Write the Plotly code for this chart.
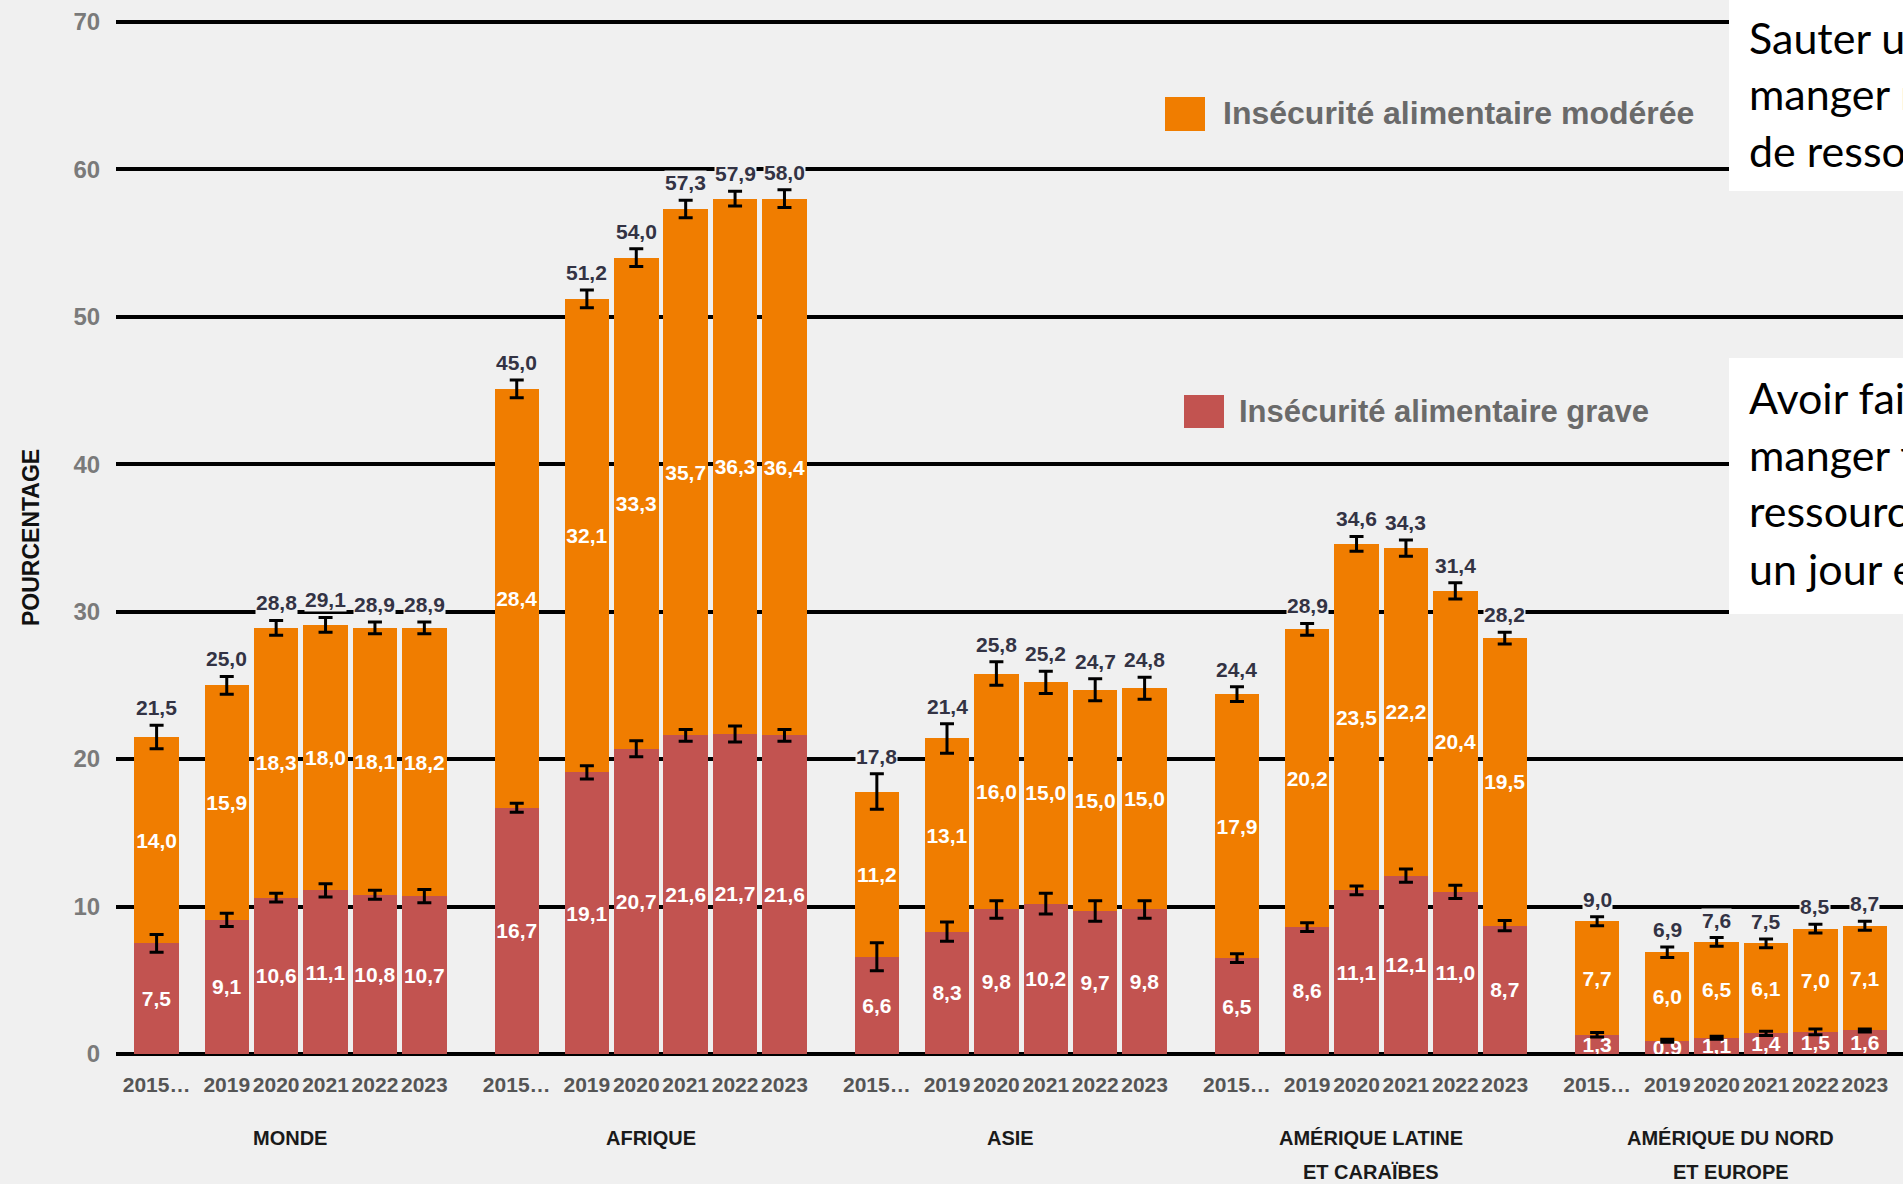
import plotly.graph_objects as go

# ---------------- data ----------------
groups = ["MONDE", "AFRIQUE", "ASIE", "AMÉRIQUE LATINE<br>ET CARAÏBES", "AMÉRIQUE DU NORD<br>ET EUROPE"]
years = ["2015…", "2019", "2020", "2021", "2022", "2023"]

# Insécurité alimentaire grave (%)
severe = [7.5, 9.1, 10.6, 11.1, 10.8, 10.7,
          16.7, 19.1, 20.7, 21.6, 21.7, 21.6,
          6.6, 8.3, 9.8, 10.2, 9.7, 9.8,
          6.5, 8.6, 11.1, 12.1, 11.0, 8.7,
          1.3, 0.9, 1.1, 1.4, 1.5, 1.6]
# Insécurité alimentaire modérée (%)
moderate = [14.0, 15.9, 18.3, 18.0, 18.1, 18.2,
            28.4, 32.1, 33.3, 35.7, 36.3, 36.4,
            11.2, 13.1, 16.0, 15.0, 15.0, 15.0,
            17.9, 20.2, 23.5, 22.2, 20.4, 19.5,
            7.7, 6.0, 6.5, 6.1, 7.0, 7.1]
# Total modérée + grave (%)
total = [21.5, 25.0, 28.8, 29.1, 28.9, 28.9,
         45.0, 51.2, 54.0, 57.3, 57.9, 58.0,
         17.8, 21.4, 25.8, 25.2, 24.7, 24.8,
         24.4, 28.9, 34.6, 34.3, 31.4, 28.2,
         9.0, 6.9, 7.6, 7.5, 8.5, 8.7]
# uncertainty (half range)
severe_err = [0.6, 0.45, 0.3, 0.45, 0.3, 0.45,
              0.3, 0.45, 0.55, 0.4, 0.55, 0.4,
              0.95, 0.65, 0.6, 0.7, 0.7, 0.6,
              0.3, 0.3, 0.3, 0.45, 0.45, 0.35,
              0.15, 0.1, 0.1, 0.15, 0.2, 0.1]
total_err = [0.8, 0.6, 0.5, 0.5, 0.4, 0.4,
             0.6, 0.6, 0.6, 0.6, 0.5, 0.6,
             1.2, 1.0, 0.8, 0.75, 0.75, 0.75,
             0.5, 0.4, 0.5, 0.55, 0.55, 0.4,
             0.3, 0.35, 0.3, 0.3, 0.3, 0.3]

legend_moderate = "Insécurité alimentaire modérée"
legend_severe = "Insécurité alimentaire grave"
y_title = "POURCENTAGE"
note_moderate = ["Sauter un repas ou", "manger moins faute", "de ressources"]
note_severe = ["Avoir faim et ne pas", "manger faute de", "ressources ou passer", "un jour entier sans manger"]

# ---------------- layout constants ----------------
W, H = 1903, 1184
L, T, B = 116, 14, 130
Y0_PX = H - B
PX_PER_UNIT = 14.747
GROUP_STEP = 7.29
YEAR_OFFSETS = [0, 1.42, 2.42, 3.42, 4.42, 5.42]
SLOT_PX = 49.4
FIRST_PX = 156.6

ORANGE = "#F07D00"
RED = "#C25350"
BG = "#F0F0F0"
FONT = "Liberation Sans, Arial, sans-serif"
NOTE_FONT = "Lato, Open Sans, sans-serif"


def fmt(v):
    return f"{v:.1f}".replace(".", ",")


def xp(px):
    return (px - L) / (W - L)


def yp(py):
    return (Y0_PX - py) / (H - T - B)


xs, ticktext = [], []
for g in range(len(groups)):
    for i, yr in enumerate(years):
        xs.append(g * GROUP_STEP + YEAR_OFFSETS[i])
        ticktext.append(yr)

bar_top = [s + m for s, m in zip(severe, moderate)]

x_min = (L - FIRST_PX) / SLOT_PX
x_max = x_min + (W - L) / SLOT_PX
y_max = (H - T - B) / PX_PER_UNIT

label_font = dict(family=FONT, size=21, color="white", weight="bold")

fig = go.Figure()
fig.add_trace(go.Bar(
    x=xs, y=severe, width=0.9, marker=dict(color=RED, line=dict(width=0)),
    text=[fmt(v) for v in severe], textposition="inside", insidetextanchor="middle",
    textangle=0, constraintext="none", textfont=label_font, insidetextfont=label_font,
    name=legend_severe, showlegend=False, hoverinfo="skip"))
fig.add_trace(go.Bar(
    x=xs, y=moderate, width=0.9, marker=dict(color=ORANGE, line=dict(width=0)),
    text=[fmt(v) for v in moderate], textposition="inside", insidetextanchor="middle",
    textangle=0, constraintext="none", textfont=label_font, insidetextfont=label_font,
    name=legend_moderate, showlegend=False, hoverinfo="skip"))
fig.add_trace(go.Scatter(
    x=xs, y=severe, mode="markers", marker=dict(size=2, color="rgba(0,0,0,0)"),
    error_y=dict(type="data", array=severe_err, color="black", thickness=3, width=7),
    showlegend=False, hoverinfo="skip"))
fig.add_trace(go.Scatter(
    x=xs, y=bar_top, mode="markers", marker=dict(size=2, color="rgba(0,0,0,0)"),
    error_y=dict(type="data", array=total_err, color="black", thickness=3, width=7),
    showlegend=False, hoverinfo="skip"))

annotations = []
for x, top, e, t in zip(xs, bar_top, total_err, total):
    annotations.append(dict(x=x, y=top + e, xref="x", yref="y", text=fmt(t), showarrow=False,
                            yanchor="bottom", yshift=5, bgcolor=BG, borderpad=0,
                            font=dict(family=FONT, size=21, color="#333344", weight="bold")))

for g, name in enumerate(groups):
    cx = g * GROUP_STEP + (YEAR_OFFSETS[0] + YEAR_OFFSETS[-1]) / 2
    for k, part in enumerate(name.split("<br>")):
        annotations.append(dict(x=cx, y=yp(1138 + 34 * k), xref="x", yref="paper", text=part,
                                showarrow=False, yanchor="middle", xanchor="center",
                                font=dict(family=FONT, size=20, color="#1a1a1a", weight="bold")))

annotations.append(dict(x=xp(31), y=yp(538), xref="paper", yref="paper", text=y_title, textangle=-90,
                        showarrow=False, xanchor="center", yanchor="middle",
                        font=dict(family=FONT, size=23, color="#111111", weight="bold")))

# legend (custom placement)
annotations.append(dict(x=xp(1221), y=yp(113), xref="paper", yref="paper", text=legend_moderate,
                        showarrow=False, xanchor="left", yanchor="middle",
                        font=dict(family=FONT, size=32, color="#6a6a6a", weight="bold")))
annotations.append(dict(x=xp(1237), y=yp(411), xref="paper", yref="paper", text=legend_severe,
                        showarrow=False, xanchor="left", yanchor="middle",
                        font=dict(family=FONT, size=31, color="#6a6a6a", weight="bold")))

shapes = [
    dict(type="rect", xref="paper", yref="paper", x0=xp(1165), x1=xp(1205), y0=yp(131), y1=yp(97),
         fillcolor=ORANGE, line=dict(width=0), layer="above"),
    dict(type="rect", xref="paper", yref="paper", x0=xp(1184), x1=xp(1224), y0=yp(428), y1=yp(395),
         fillcolor=RED, line=dict(width=0), layer="above"),
    dict(type="rect", xref="paper", yref="paper", x0=xp(1729), x1=xp(W + 5), y0=yp(191), y1=yp(-5),
         fillcolor="white", line=dict(width=0), layer="above"),
    dict(type="rect", xref="paper", yref="paper", x0=xp(1729), x1=xp(W + 5), y0=yp(614), y1=yp(358),
         fillcolor="white", line=dict(width=0), layer="above"),
]

for k, line in enumerate(note_moderate):
    annotations.append(dict(x=xp(1747), y=yp(37 + 57 * k), xref="paper", yref="paper", text=line,
                            showarrow=False, xanchor="left", yanchor="middle", align="left",
                            font=dict(family=NOTE_FONT, size=43, color="black")))
for k, line in enumerate(note_severe):
    annotations.append(dict(x=xp(1747), y=yp(397 + 57 * k), xref="paper", yref="paper", text=line,
                            showarrow=False, xanchor="left", yanchor="middle", align="left",
                            font=dict(family=NOTE_FONT, size=43, color="black")))

fig.update_layout(
    width=W, height=H, autosize=False,
    margin=dict(l=L, r=0, t=T, b=B, pad=0),
    paper_bgcolor=BG, plot_bgcolor=BG,
    barmode="stack", showlegend=False,
    annotations=annotations, shapes=shapes,
    xaxis=dict(range=[x_min, x_max], tickmode="array", tickvals=xs, ticktext=ticktext,
               tickangle=0, showgrid=False, zeroline=False, showline=False,
               ticks="outside", ticklen=12, tickcolor="rgba(0,0,0,0)",
               tickfont=dict(family=FONT, size=21, color="#555555", weight="bold")),
    yaxis=dict(range=[0, y_max], tickmode="array", tickvals=[0, 10, 20, 30, 40, 50, 60, 70],
               showgrid=True, gridcolor="black", gridwidth=3.5,
               zeroline=True, zerolinecolor="black", zerolinewidth=3.5, showline=False,
               ticks="outside", ticklen=10, tickcolor="rgba(0,0,0,0)",
               tickfont=dict(family=FONT, size=24, color="#7a7a7a", weight="bold")),
)

fig.write_html("out.html", config={"displayModeBar": False},
               post_script="document.body.style.margin='0';document.body.style.overflow='hidden';")
